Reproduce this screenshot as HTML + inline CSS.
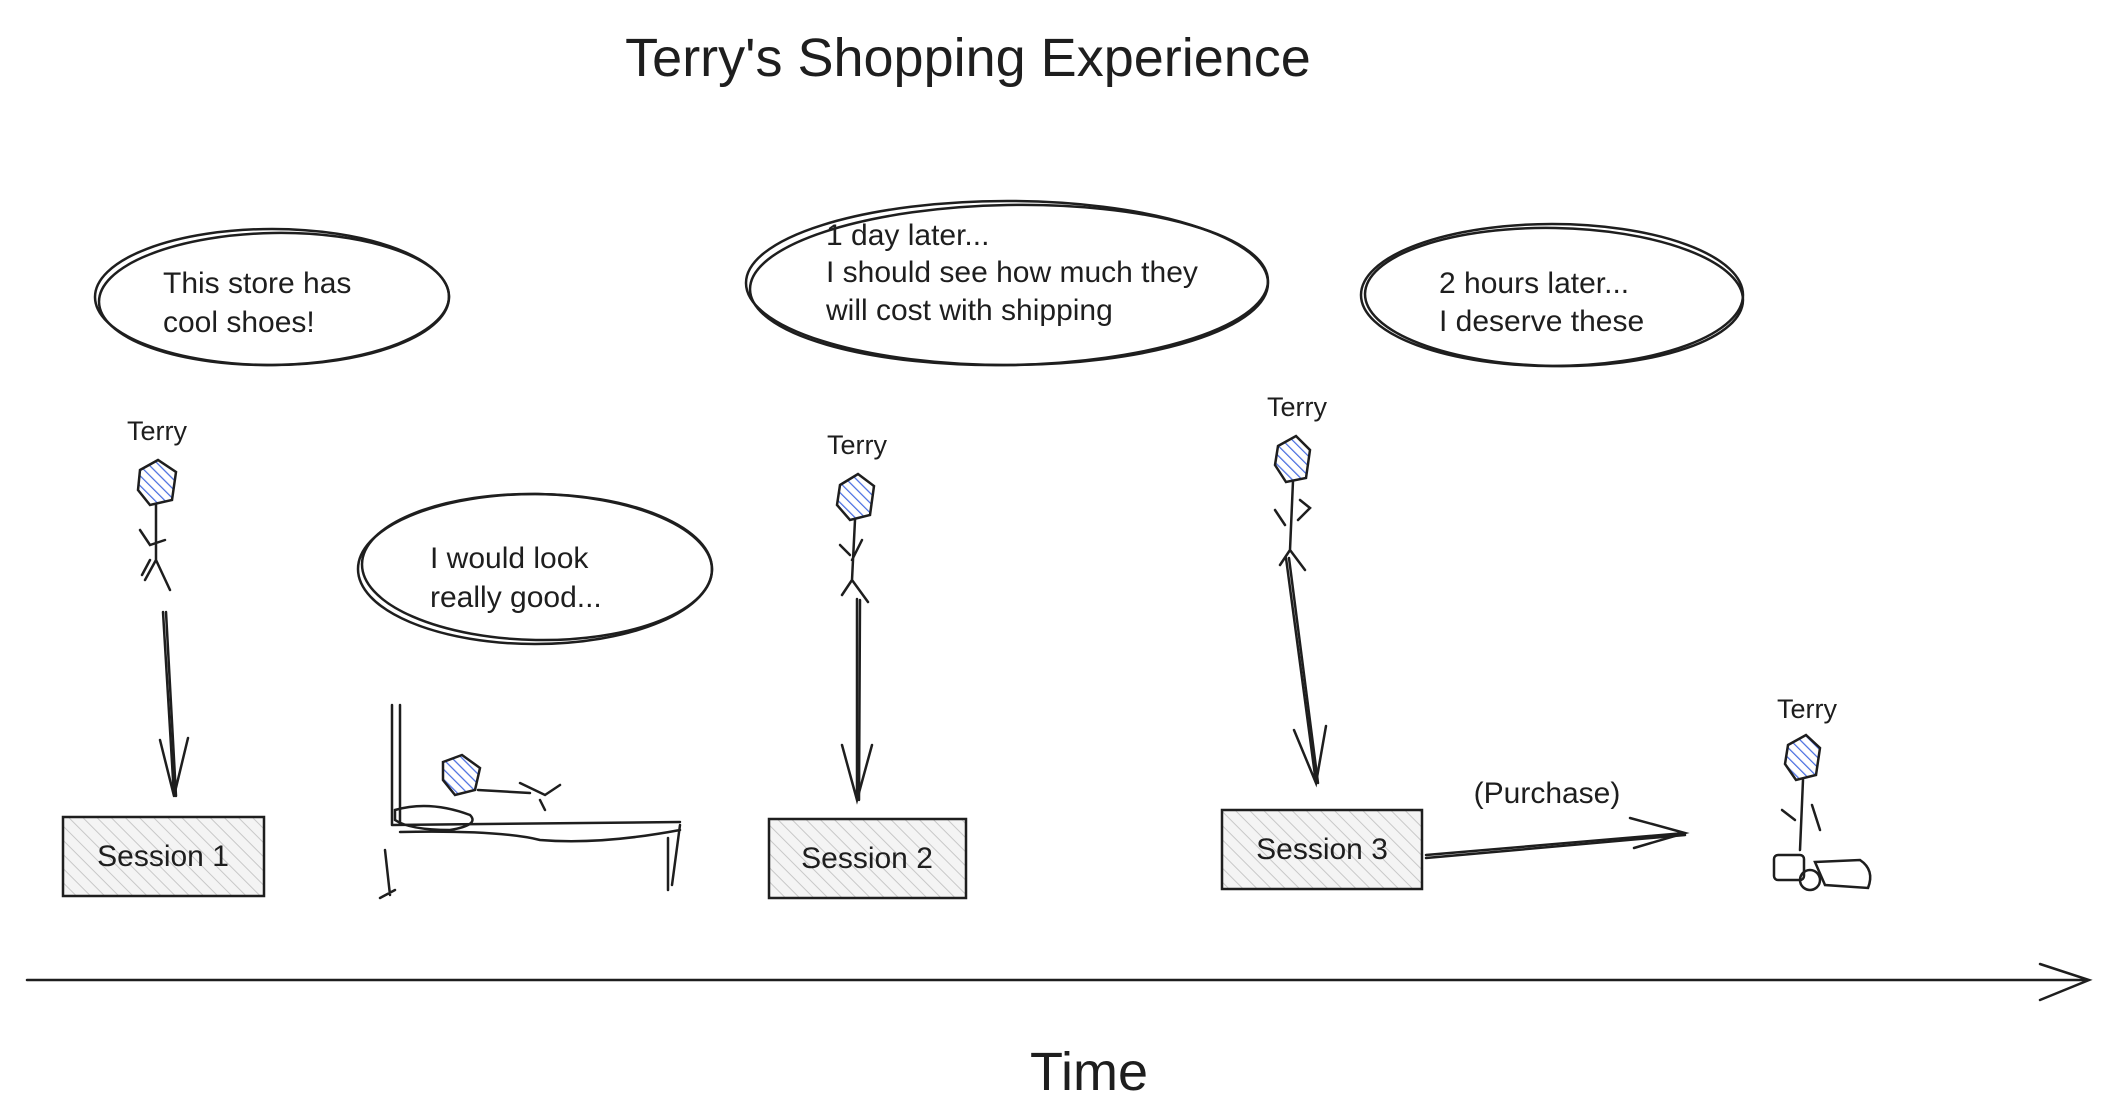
<!DOCTYPE html>
<html><head><meta charset="utf-8"><style>
html,body{margin:0;padding:0;background:#fff;}
svg{display:block;}
text{font-family:"Liberation Sans",sans-serif;fill:#1e1e1e;}
</style></head><body>
<svg width="2112" height="1118" viewBox="0 0 2112 1118" xmlns="http://www.w3.org/2000/svg">
<defs>
<pattern id="hg" width="10" height="10" patternUnits="userSpaceOnUse" patternTransform="rotate(-45)">
<rect width="10" height="10" fill="#f4f4f4"/><line x1="0" y1="0" x2="0" y2="10" stroke="#c8c8c8" stroke-width="2"/></pattern>
<pattern id="hb" width="7" height="7" patternUnits="userSpaceOnUse" patternTransform="rotate(-45)">
<rect width="7" height="7" fill="#fff"/><line x1="0" y1="0" x2="0" y2="7" stroke="#4a6ee0" stroke-width="2.5"/></pattern>
</defs>
<g fill="none" stroke="#1e1e1e" stroke-width="2.5" stroke-linecap="round">
<ellipse cx="272" cy="297" rx="177" ry="68"/><ellipse cx="274" cy="299" rx="175" ry="66" transform="rotate(-1 274 299)"/>
<ellipse cx="535" cy="569" rx="177" ry="75"/><ellipse cx="537" cy="567" rx="175" ry="73" transform="rotate(1 537 567)"/>
<ellipse cx="1007" cy="283" rx="261" ry="82"/><ellipse cx="1009" cy="285" rx="259" ry="80" transform="rotate(-1 1009 285)"/>
<ellipse cx="1552" cy="295" rx="191" ry="71"/><ellipse cx="1554" cy="297" rx="189" ry="69" transform="rotate(1 1554 297)"/>
<path d="M163 612 L174 796 M160 740 L174 796 L188 738"/><path d="M166 612 L176 796"/>
<path d="M857 599 L857 800 M842 745 L857 800 L872 745"/><path d="M860 600 L859 800"/>
<path d="M1286 558 L1316 783 M1294 730 L1316 783 L1326 726"/><path d="M1289 558 L1318 783"/>
<path d="M1426 855 L1685 833 M1630 818 L1685 833 L1634 848"/><path d="M1426 858 L1685 835"/>
<path d="M27 980 L2089 980 M2040 964 L2089 980 L2040 1000"/>
<path d="M156 505 L156 560 M140 530 L150 545 L165 540 M156 560 L145 580 M156 560 L170 590 M142 575 L150 560"/>
<path d="M855 520 L852 580 M840 545 L850 555 M862 540 L852 560 M852 580 L842 595 M852 580 L868 602"/>
<path d="M1293 481 L1290 550 M1275 510 L1285 525 M1300 500 L1310 508 L1298 520 M1290 550 L1280 565 M1290 550 L1305 570"/>
<path d="M1803 780 L1800 850 M1782 810 L1795 820 M1812 805 L1820 830"/>
<rect x="1774" y="855" width="30" height="25" rx="4"/><path d="M1815 862 L1860 860 Q1875 870 1868 888 L1825 885 Z"/><circle cx="1810" cy="880" r="10"/>
<path d="M392 705 L392 825 M400 705 L400 825 M392 825 L680 822 M400 832 Q500 830 540 840 Q600 845 680 830 M385 850 L390 895 M668 838 L668 890 M680 825 L672 885 M395 890 L380 898"/>
<path d="M395 810 Q430 800 470 815 Q480 825 450 830 Q410 830 395 820 Z"/>
<path d="M478 790 L530 793 M520 783 L545 795 L560 785 M540 800 L545 810"/>
</g>
<g stroke="#1e1e1e" stroke-width="2.5" fill="url(#hb)">
<path d="M140 470 L158 460 L176 472 L172 500 L150 505 L138 490 Z"/>
<path d="M840 485 L858 474 L874 486 L870 515 L850 520 L837 505 Z"/>
<path d="M1278 446 L1296 436 L1310 450 L1306 478 L1286 482 L1275 465 Z"/>
<path d="M1788 745 L1806 735 L1820 748 L1816 775 L1796 780 L1785 764 Z"/>
<path d="M443 762 L462 755 L480 768 L475 790 L455 795 L443 780 Z"/>
</g>
<g stroke="#1e1e1e" stroke-width="2.5" fill="url(#hg)">
<rect x="63" y="817" width="201" height="79"/>
<rect x="769" y="819" width="197" height="79"/>
<rect x="1222" y="810" width="200" height="79"/>
</g>
<text x="968" y="76" font-size="54" text-anchor="middle">Terry's Shopping Experience</text>
<text x="1089" y="1090" font-size="54" text-anchor="middle">Time</text>
<g font-size="30">
<text x="163" y="293">This store has</text><text x="163" y="332">cool shoes!</text>
<text x="430" y="568">I would look</text><text x="430" y="607">really good...</text>
<text x="826" y="245">1 day later...</text><text x="826" y="282">I should see how much they</text><text x="826" y="320">will cost with shipping</text>
<text x="1439" y="293">2 hours later...</text><text x="1439" y="331">I deserve these</text>
<text x="163" y="866" text-anchor="middle">Session 1</text>
<text x="867" y="868" text-anchor="middle">Session 2</text>
<text x="1322" y="859" text-anchor="middle">Session 3</text>
<text x="1547" y="803" text-anchor="middle">(Purchase)</text>
</g>
<g font-size="27" text-anchor="middle">
<text x="157" y="440">Terry</text><text x="857" y="454">Terry</text><text x="1297" y="416">Terry</text><text x="1807" y="718">Terry</text>
</g>
</svg>
</body></html>
